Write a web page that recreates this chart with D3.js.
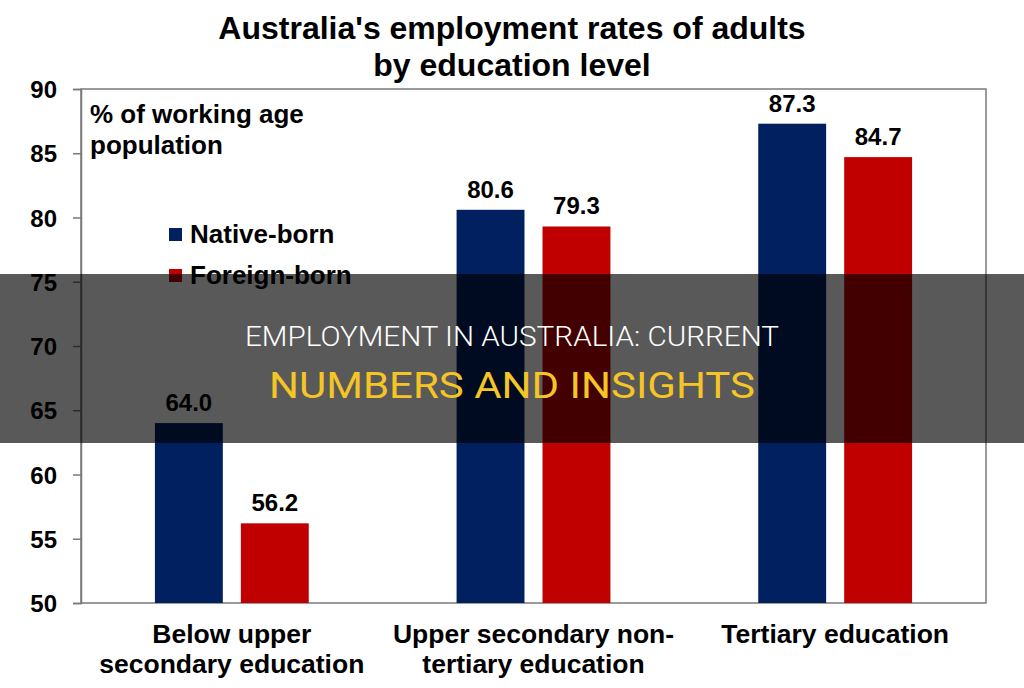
<!DOCTYPE html>
<html>
<head>
<meta charset="utf-8">
<script src="https://cdn.jsdelivr.net/npm/d3@7"></script>
<style>
  body { margin: 0; background: #fff; }
  svg { display: block; font-family: "Liberation Sans", Arial, sans-serif; }
  .tickText { font-size: 24px; font-weight: bold; fill: #000; }
</style>
</head>
<body>
<div class="chart"></div>
<script>
// data
var categories = [
  ["Below upper", "secondary education"],
  ["Upper secondary non-", "tertiary education"],
  ["Tertiary education"]
];
var seriesNames = ["Native-born", "Foreign-born"];
var nativeBorn = [64.0, 80.6, 87.3];
var foreignBorn = [56.2, 79.3, 84.7];
var yTicks = [50, 55, 60, 65, 70, 75, 80, 85, 90];
var colors = ["#002060", "#c00000"];

var svgWidth = 1024;
var svgHeight = 688;
var plot = { left: 81, right: 986, top: 89, bottom: 603 };

var svg = d3.select(".chart")
  .append("svg")
  .attr("width", svgWidth)
  .attr("height", svgHeight);

var catKeys = categories.map(function(c) { return c.join(" "); });

var x0 = d3.scaleBand()
  .domain(catKeys)
  .range([plot.left, plot.right]);

var x1 = d3.scaleBand()
  .domain(seriesNames)
  .range([0, x0.bandwidth()])
  .paddingInner(0.21)
  .paddingOuter(0.86);

var y = d3.scaleLinear()
  .domain([50, 90])
  .range([plot.bottom, plot.top]);

// title
svg.append("text")
  .attr("x", 512)
  .attr("text-anchor", "middle")
  .style("font-size", "32px")
  .style("font-weight", "bold")
  .selectAll("tspan")
  .data(["Australia's employment rates of adults", "by education level"])
  .enter()
  .append("tspan")
  .attr("x", 512)
  .attr("y", function(d, i) { return 39 + i * 37; })
  .text(function(d) { return d; });

// frame
svg.append("rect")
  .attr("x", plot.left)
  .attr("y", plot.top)
  .attr("width", plot.right - plot.left)
  .attr("height", plot.bottom - plot.top)
  .attr("fill", "none")
  .attr("stroke", "#7a7a7a")
  .attr("stroke-width", 1.5);

// y axis
var leftAxis = d3.axisLeft(y)
  .tickValues(yTicks)
  .tickSize(8)
  .tickPadding(16)
  .tickFormat(d3.format("d"));

var yAxisG = svg.append("g")
  .attr("transform", `translate(${plot.left}, 0)`)
  .call(leftAxis);
yAxisG.select(".domain").attr("stroke", "#7a7a7a").attr("stroke-width", 1.5);
yAxisG.selectAll(".tick line").attr("stroke", "#7a7a7a").attr("stroke-width", 1.5);
yAxisG.selectAll(".tick text")
  .attr("class", "tickText")
  .attr("dy", "0.36em")
  .style("font-family", null)
  .attr("font-family", null)
  .attr("font-size", null);
yAxisG.attr("font-family", null).attr("font-size", null);

// bars
var rows = catKeys.map(function(k, i) {
  return { key: k, values: [nativeBorn[i], foreignBorn[i]] };
});

var groups = svg.selectAll(".group")
  .data(rows)
  .enter()
  .append("g")
  .attr("class", "group")
  .attr("transform", function(d) { return `translate(${x0(d.key)}, 0)`; });

groups.selectAll("rect")
  .data(function(d) {
    return d.values.map(function(v, j) { return { name: seriesNames[j], value: v, idx: j }; });
  })
  .enter()
  .append("rect")
  .attr("x", function(d) { return x1(d.name); })
  .attr("y", function(d) { return y(d.value); })
  .attr("width", x1.bandwidth())
  .attr("height", function(d) { return y(50) - y(d.value); })
  .attr("fill", function(d) { return colors[d.idx]; });

groups.selectAll(".valueText")
  .data(function(d) {
    return d.values.map(function(v, j) { return { name: seriesNames[j], value: v }; });
  })
  .enter()
  .append("text")
  .attr("class", "valueText")
  .attr("x", function(d) { return x1(d.name) + x1.bandwidth() / 2; })
  .attr("y", function(d) { return y(d.value) - 12; })
  .attr("text-anchor", "middle")
  .style("font-size", "24px")
  .style("font-weight", "bold")
  .text(function(d) { return d3.format(".1f")(d.value); });

// category labels
svg.selectAll(".catText")
  .data(categories)
  .enter()
  .append("text")
  .attr("class", "catText")
  .attr("text-anchor", "middle")
  .style("font-size", "26.5px")
  .style("font-weight", "bold")
  .each(function(d, i) {
    var cx = x0(catKeys[i]) + x0.bandwidth() / 2;
    d3.select(this).selectAll("tspan")
      .data(d)
      .enter()
      .append("tspan")
      .attr("x", cx)
      .attr("y", function(t, j) { return 643 + j * 30; })
      .text(function(t) { return t; });
  });

// unit note
svg.append("text")
  .style("font-size", "26px")
  .style("font-weight", "bold")
  .selectAll("tspan")
  .data(["% of working age", "population"])
  .enter()
  .append("tspan")
  .attr("x", 90)
  .attr("y", function(d, i) { return 123 + i * 31; })
  .text(function(d) { return d; });

// legend
var legend = svg.selectAll(".legend")
  .data(seriesNames)
  .enter()
  .append("g")
  .attr("class", "legend")
  .attr("transform", function(d, i) { return `translate(169, ${228 + i * 41})`; });

legend.append("rect")
  .attr("width", 13)
  .attr("height", 13)
  .attr("fill", function(d, i) { return colors[i]; });

legend.append("text")
  .attr("x", 21)
  .attr("y", 15)
  .style("font-size", "26px")
  .style("font-weight", "bold")
  .text(function(d) { return d; });

// banner overlay
svg.append("rect")
  .attr("x", 0)
  .attr("y", 274)
  .attr("width", svgWidth)
  .attr("height", 169)
  .attr("fill", "#000")
  .attr("fill-opacity", 0.65);

svg.append("text")
  .attr("x", 512)
  .attr("y", 346)
  .attr("text-anchor", "middle")
  .attr("textLength", 534)
  .attr("lengthAdjust", "spacingAndGlyphs")
  .style("font-family", "Roboto, 'Liberation Sans', sans-serif")
  .style("font-weight", 300)
  .style("font-size", "27px")
  .attr("fill", "#fff")
  .text("EMPLOYMENT IN AUSTRALIA: CURRENT");

svg.append("text")
  .attr("x", 512)
  .attr("y", 398)
  .attr("text-anchor", "middle")
  .attr("textLength", 486)
  .attr("lengthAdjust", "spacingAndGlyphs")
  .style("font-family", "Roboto, 'Liberation Sans', sans-serif")
  .style("font-weight", 400)
  .style("font-size", "36px")
  .attr("fill", "#f5c425")
  .text("NUMBERS AND INSIGHTS");
</script>
</body>
</html>
